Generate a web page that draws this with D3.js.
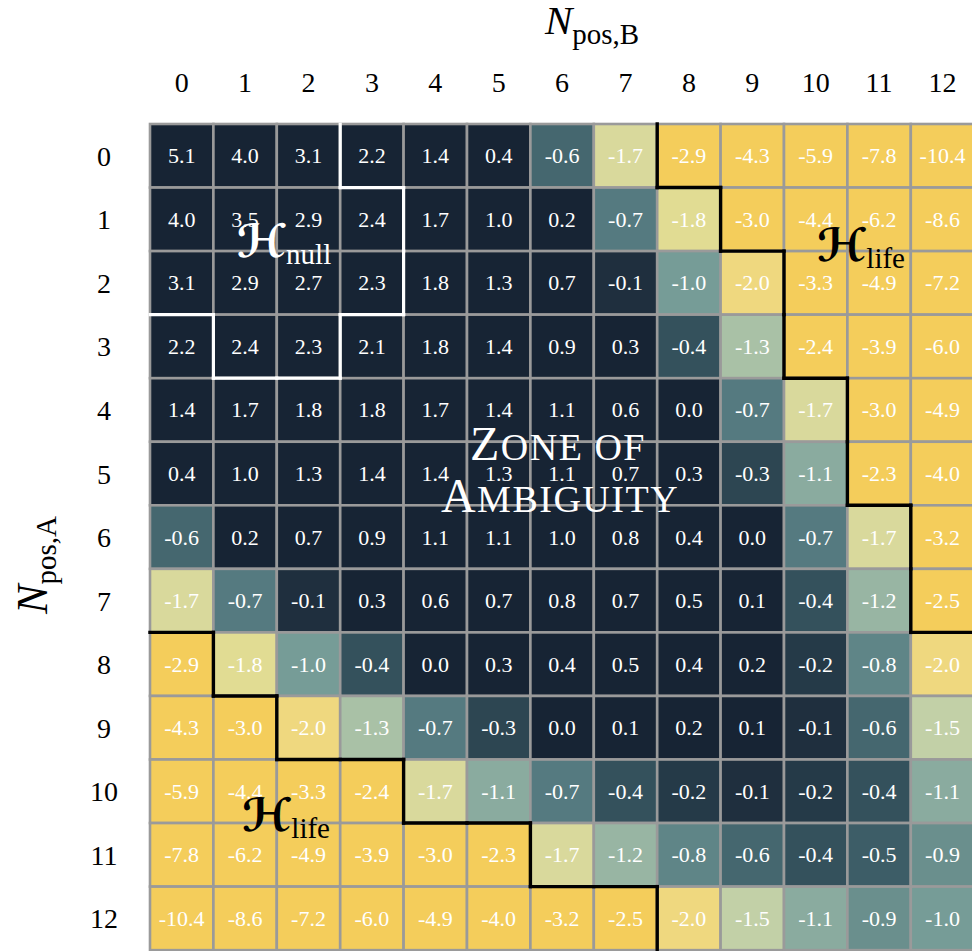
<!DOCTYPE html>
<html>
<head>
<meta charset="utf-8">
<script src="https://cdn.jsdelivr.net/npm/d3@7"></script>
<style>
  html, body { margin: 0; padding: 0; background: #ffffff; }
  svg { display: block; }
  text { font-family: "Liberation Serif", "DejaVu Serif", serif; }
</style>
</head>
<body>
<svg id="chart" width="972" height="951"></svg>
<script>
// ---------- data ----------
const rowLabels = ["0","1","2","3","4","5","6","7","8","9","10","11","12"];   // N_pos,A
const colLabels = ["0","1","2","3","4","5","6","7","8","9","10","11","12"];   // N_pos,B
const row0  = [5.1, 4.0, 3.1, 2.2, 1.4, 0.4, -0.6, -1.7, -2.9, -4.3, -5.9, -7.8, -10.4];
const row1  = [4.0, 3.5, 2.9, 2.4, 1.7, 1.0, 0.2, -0.7, -1.8, -3.0, -4.4, -6.2, -8.6];
const row2  = [3.1, 2.9, 2.7, 2.3, 1.8, 1.3, 0.7, -0.1, -1.0, -2.0, -3.3, -4.9, -7.2];
const row3  = [2.2, 2.4, 2.3, 2.1, 1.8, 1.4, 0.9, 0.3, -0.4, -1.3, -2.4, -3.9, -6.0];
const row4  = [1.4, 1.7, 1.8, 1.8, 1.7, 1.4, 1.1, 0.6, 0.0, -0.7, -1.7, -3.0, -4.9];
const row5  = [0.4, 1.0, 1.3, 1.4, 1.4, 1.3, 1.1, 0.7, 0.3, -0.3, -1.1, -2.3, -4.0];
const row6  = [-0.6, 0.2, 0.7, 0.9, 1.1, 1.1, 1.0, 0.8, 0.4, 0.0, -0.7, -1.7, -3.2];
const row7  = [-1.7, -0.7, -0.1, 0.3, 0.6, 0.7, 0.8, 0.7, 0.5, 0.1, -0.4, -1.2, -2.5];
const row8  = [-2.9, -1.8, -1.0, -0.4, 0.0, 0.3, 0.4, 0.5, 0.4, 0.2, -0.2, -0.8, -2.0];
const row9  = [-4.3, -3.0, -2.0, -1.3, -0.7, -0.3, 0.0, 0.1, 0.2, 0.1, -0.1, -0.6, -1.5];
const row10 = [-5.9, -4.4, -3.3, -2.4, -1.7, -1.1, -0.7, -0.4, -0.2, -0.1, -0.2, -0.4, -1.1];
const row11 = [-7.8, -6.2, -4.9, -3.9, -3.0, -2.3, -1.7, -1.2, -0.8, -0.6, -0.4, -0.5, -0.9];
const row12 = [-10.4, -8.6, -7.2, -6.0, -4.9, -4.0, -3.2, -2.5, -2.0, -1.5, -1.1, -0.9, -1.0];
const values = [row0,row1,row2,row3,row4,row5,row6,row7,row8,row9,row10,row11,row12];

// region thresholds (cells above / below are enclosed)
const nullThreshold = 2.25;   // H_null : value > 2.25
const lifeThreshold = -2.15;  // H_life : value < -2.15

// colour map stops
const colorDomain = [-2.3, -2.0, -1.8, -1.7, -1.5, -1.3, -1.2, -1.1, -1.0, -0.9, -0.8, -0.7, -0.6, -0.5, -0.4, -0.2, -0.1, 0.0];
const colorRange  = ["#f4cd5b", "#efd87f", "#e1dc93", "#d9d99c", "#c2d0a7", "#a9c1a6", "#98b5a3", "#8aab9f", "#769c97", "#6a8f8d", "#5f8587", "#557a80", "#45676f", "#3d5d67", "#34515c", "#253a48", "#1f2f3e", "#172434"];

// ---------- layout ----------
const svg = d3.select("#chart");
const gridLeft = 150, gridTop = 124, cellW = 63.4, cellH = 63.55;
const x = d3.scaleBand().domain(d3.range(13)).range([gridLeft, gridLeft + 13 * cellW]).padding(0);
const y = d3.scaleBand().domain(d3.range(13)).range([gridTop, gridTop + 13 * cellH]).padding(0);
const color = d3.scaleLinear().domain(colorDomain).range(colorRange).clamp(true);

const cells = [];
values.forEach((row, i) => row.forEach((v, j) => cells.push({ i, j, v })));

// cells
svg.append("g").selectAll("rect").data(cells).join("rect")
  .attr("x", d => x(d.j)).attr("y", d => y(d.i))
  .attr("width", x.bandwidth()).attr("height", y.bandwidth())
  .attr("fill", d => color(d.v))
  .attr("stroke", "#9a9a9a").attr("stroke-width", 2.6);

// cell values
svg.append("g").selectAll("text").data(cells).join("text")
  .attr("x", d => x(d.j) + x.bandwidth() / 2)
  .attr("y", d => y(d.i) + y.bandwidth() / 2 + 7.5)
  .attr("text-anchor", "middle")
  .attr("font-size", 22)
  .attr("fill", "#ffffff")
  .text(d => d.v.toFixed(1));

// region boundaries
function boundaryEdges(inRegion) {
  const edges = [];
  for (let i = 0; i < 13; i++) for (let j = 0; j < 13; j++) {
    if (!inRegion(values[i][j])) continue;
    const x0 = x(j), x1 = x(j) + x.bandwidth(), y0 = y(i), y1 = y(i) + y.bandwidth();
    if (i > 0 && !inRegion(values[i - 1][j])) edges.push([x0, y0, x1, y0]);
    if (i < 12 && !inRegion(values[i + 1][j])) edges.push([x0, y1, x1, y1]);
    if (j > 0 && !inRegion(values[i][j - 1])) edges.push([x0, y0, x0, y1]);
    if (j < 12 && !inRegion(values[i][j + 1])) edges.push([x1, y0, x1, y1]);
  }
  return edges;
}
function drawEdges(edges, stroke, w) {
  svg.append("g").selectAll("line").data(edges).join("line")
    .attr("x1", d => d[0]).attr("y1", d => d[1]).attr("x2", d => d[2]).attr("y2", d => d[3])
    .attr("stroke", stroke).attr("stroke-width", w).attr("stroke-linecap", "square");
}
drawEdges(boundaryEdges(v => v > nullThreshold), "#ffffff", 3.2);
drawEdges(boundaryEdges(v => v < lifeThreshold), "#000000", 3.4);

// column tick labels
svg.append("g").selectAll("text").data(colLabels).join("text")
  .attr("x", (d, j) => x(j) + x.bandwidth() / 2)
  .attr("y", 92)
  .attr("text-anchor", "middle").attr("font-size", 28).attr("fill", "#000")
  .text(d => d);

// row tick labels
svg.append("g").selectAll("text").data(rowLabels).join("text")
  .attr("x", 104)
  .attr("y", (d, i) => y(i) + y.bandwidth() / 2 + 10)
  .attr("text-anchor", "middle").attr("font-size", 28).attr("fill", "#000")
  .text(d => d);

// axis titles
const xt = svg.append("text").attr("x", 592).attr("y", 34).attr("text-anchor", "middle").attr("fill", "#000");
xt.append("tspan").attr("font-size", 41).attr("font-style", "italic").text("N");
xt.append("tspan").attr("font-size", 29).attr("dy", 10).text("pos,B");

const yt = svg.append("text").attr("transform", "translate(47,565) rotate(-90)").attr("text-anchor", "middle").attr("fill", "#000");
yt.append("tspan").attr("font-size", 44).attr("font-style", "italic").text("N");
yt.append("tspan").attr("font-size", 29).attr("dy", 9).text("pos,A");

// region labels
function regionLabel(cx, by, sub, fill) {
  const t = svg.append("text").attr("x", cx).attr("y", by).attr("text-anchor", "middle").attr("fill", fill);
  t.append("tspan").attr("font-size", 46).attr("font-weight", "bold").attr("font-family", "DejaVu Serif, DejaVu Sans, serif").attr("font-style", "italic").text("\u210B");
  t.append("tspan").attr("font-size", 29).attr("dy", 7).text(sub);
}
regionLabel(284, 257, "null", "#ffffff");
regionLabel(861, 261, "life", "#000000");
regionLabel(286, 831, "life", "#000000");

// zone of ambiguity (small caps)
function smallCaps(cx, by, big, small) {
  const t = svg.append("text").attr("x", cx).attr("y", by).attr("text-anchor", "middle").attr("fill", "#ffffff").attr("letter-spacing", 1.5);
  t.append("tspan").attr("font-size", 48).text(big);
  t.append("tspan").attr("font-size", 38).text(small);
}
smallCaps(558, 460, "Z", "ONE OF");
smallCaps(560, 512, "A", "MBIGUITY");
</script>
</body>
</html>
